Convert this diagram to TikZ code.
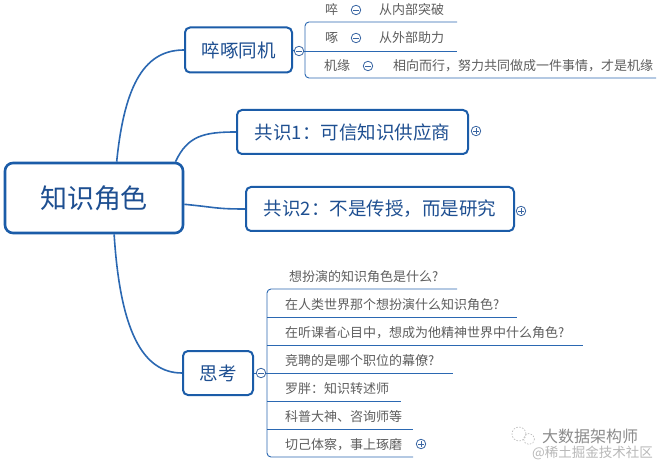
\documentclass[tikz,border=0pt]{standalone}
\usepackage{fontspec}
\setmainfont{Noto Sans CJK SC}
\definecolor{boxblue}{HTML}{1B5CA8}
\definecolor{lineblue}{HTML}{2B68B2}
\definecolor{txtblue}{HTML}{1E4F91}
\definecolor{childgray}{HTML}{5E5E5E}
\definecolor{markblue}{HTML}{3A66A3}
\definecolor{wmgray}{HTML}{9A9A9A}
\begin{document}
\begin{tikzpicture}[x=1pt,y=-1pt,
  topicbox/.style={draw=boxblue,line width=2pt,rounded corners=5pt,fill=white,text=txtblue,inner sep=0pt,align=center},
  conn/.style={draw=lineblue,line width=1.6pt},
  uline/.style={draw=lineblue,line width=0.9pt},
  childtxt/.style={anchor=west,inner sep=0pt,text=childgray,font=\fontsize{13}{15}\selectfont},
  minusc/.style={circle,draw=markblue,line width=0.8pt,minimum size=9.5pt,inner sep=0pt,fill=white,
    path picture={\draw[markblue,line width=0.8pt] ([xshift=-2.6pt]path picture bounding box.center) -- ([xshift=2.6pt]path picture bounding box.center);}},
  plusc/.style={circle,draw=markblue,line width=0.8pt,minimum size=9.5pt,inner sep=0pt,fill=white,
    path picture={\draw[markblue,line width=0.8pt] ([xshift=-2.6pt]path picture bounding box.center) -- ([xshift=2.6pt]path picture bounding box.center);
                  \draw[markblue,line width=0.8pt] ([yshift=-2.6pt]path picture bounding box.center) -- ([yshift=2.6pt]path picture bounding box.center);}}
]
\useasboundingbox (0,0) rectangle (659,465);
\fill[white] (0,0) rectangle (659,465);

% main topics
\node[topicbox,line width=2.6pt,rounded corners=8pt,minimum width=178pt,minimum height=70pt,font=\fontsize{27}{30}\selectfont] (root) at (94,198) {知识角色};
\node[topicbox,minimum width=107pt,minimum height=45pt,font=\fontsize{18.5}{21}\selectfont] (zc) at (238.5,50) {啐啄同机};
\node[topicbox,minimum width=231pt,minimum height=44pt,font=\fontsize{18.5}{21}\selectfont] (gs1) at (352.5,132) {共识1：可信知识供应商};
\node[topicbox,minimum width=268pt,minimum height=44pt,font=\fontsize{18.5}{21}\selectfont] (gs2) at (380,209) {共识2：不是传授，而是研究};
\node[topicbox,minimum width=70pt,minimum height=44pt,font=\fontsize{18.5}{21}\selectfont] (sk) at (218,373) {思考};

% root connectors
\draw[conn] (root.58) .. controls +(8,-80) and +(-38,0) .. (zc.west);
\draw[conn] (root.24) .. controls +(12,-26) and +(-32,0) .. (gs1.west);
\draw[conn] (root.-4) .. controls +(32,3) and +(-30,0) .. (gs2.west);
\draw[conn] (root.-61) .. controls +(6,95) and +(-40,0) .. (sk.west);

% expand markers
\node[plusc] (gs1p) at (476,131) {};
\node[plusc] (gs2p) at (521,211) {};

% 啐啄同机 branch
\node[minusc] (zcm) at (299,51) {};
\coordinate (zb) at (305,51);
\coordinate (zu1) at (457,22);
\coordinate (zu2) at (457,51);
\coordinate (zu3) at (656,78);
\draw[uline] (zc.east) -- (zcm.west);
\draw[uline] (zcm.east) -- (zb);
\draw[uline,rounded corners=4pt] (zu1) -- (305,22) -- (305,78) -- (zu3);
\draw[uline] (zb) -- (zu2);

\node[childtxt] (z1) at (325,10) {啐};
\node[minusc] (z1m) at (356,10) {};
\node[childtxt] (z1t) at (379,10) {从内部突破};
\node[childtxt] (z2) at (325,38) {啄};
\node[minusc] (z2m) at (356,38) {};
\node[childtxt] (z2t) at (379,38) {从外部助力};
\node[childtxt] (z3) at (324,66) {机缘};
\node[minusc] (z3m) at (368,66) {};
\node[childtxt] (z3t) at (393,66) {相向而行，努力共同做成一件事情，才是机缘};

% 思考 branch
\node[minusc] (skm) at (261,373) {};
\coordinate (sb) at (267,373);
\draw[uline] (sk.east) -- (skm.west);
\draw[uline] (skm.east) -- (sb);
\coordinate (s1) at (457,289);
\coordinate (s2) at (517,317);
\coordinate (s3) at (583,345);
\coordinate (s4) at (453,373);
\coordinate (s5) at (401,401);
\coordinate (s6) at (413,429);
\coordinate (s7) at (413,457);
\draw[uline,rounded corners=4pt] (s1) -- (267,289) -- (267,457) -- (s7);
\draw[uline] (267,317) -- (s2);
\draw[uline] (267,345) -- (s3);
\draw[uline] (sb) -- (s4);
\draw[uline] (267,401) -- (s5);
\draw[uline] (267,429) -- (s6);

\node[childtxt] (t1) at (289,277) {想扮演的知识角色是什么?};
\node[childtxt] (t2) at (285,305) {在人类世界那个想扮演什么知识角色?};
\node[childtxt] (t3) at (285,333) {在听课者心目中，想成为他精神世界中什么角色?};
\node[childtxt] (t4) at (285,361) {竞聘的是哪个职位的幕僚?};
\node[childtxt] (t5) at (285,389) {罗胖：知识转述师};
\node[childtxt] (t6) at (285,417) {科普大神、咨询师等};
\node[childtxt] (t7) at (285,445) {切己体察，事上琢磨};
\node[plusc] (t7p) at (421,444) {};

% watermark
\draw[wmgray!70,line width=0.6pt,dash pattern=on 1.5pt off 1.5pt] (519,434) circle (7);
\draw[wmgray!70,line width=0.6pt,dash pattern=on 1.5pt off 1.5pt] (529,439) circle (5.5);
\node[anchor=west,inner sep=0pt,text=wmgray!90!black,font=\fontsize{16}{18}\selectfont] (wm1) at (542,436) {大数据架构师};
\node[anchor=west,inner sep=0pt,text=wmgray!70,font=\fontsize{13.5}{15}\selectfont] (wm2) at (532,453) {@稀土掘金技术社区};
\end{tikzpicture}
\end{document}
